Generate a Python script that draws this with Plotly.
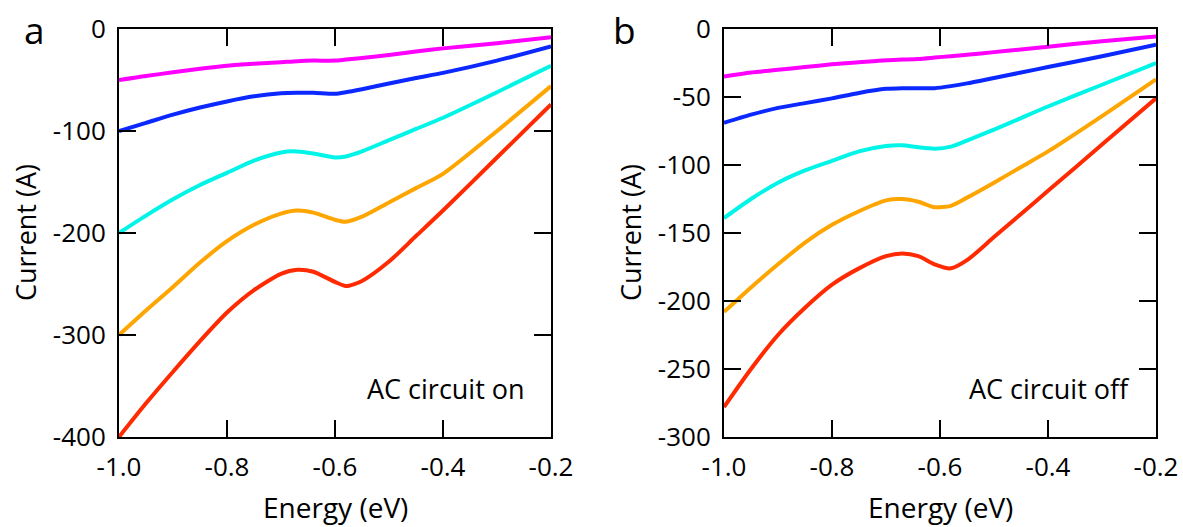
import plotly.graph_objects as go

# ---------------- data ----------------
energy_a = [-1.0, -0.95, -0.9, -0.85, -0.8, -0.75, -0.7, -0.67, -0.64, -0.6, -0.58, -0.55, -0.5, -0.45, -0.4, -0.3, -0.2]
a_magenta = [-50, -46, -42.5, -39, -36, -34, -32.5, -31.5, -31, -31, -30, -28.5, -25.5, -22, -19, -14, -8]
a_blue = [-100, -92, -84, -77, -71, -66, -63, -62.5, -62.5, -63.5, -62, -59, -53.5, -48, -43, -31, -17]
a_cyan = [-200, -183, -167, -153, -141, -129, -121, -120, -122, -126, -125, -120, -109, -98, -87, -62, -36]
a_orange = [-300, -276, -253, -229, -208, -192, -181, -178, -180, -187, -189, -184, -170, -156, -142, -100, -56]
a_red = [-400, -367, -336, -306, -278, -256, -240, -236, -238, -248, -252, -247, -228, -203, -178, -126, -74]

energy_b = [-1.0, -0.95, -0.9, -0.85, -0.8, -0.75, -0.7, -0.67, -0.64, -0.61, -0.58, -0.55, -0.5, -0.45, -0.4, -0.3, -0.2]
b_magenta = [-35, -32, -30, -28, -26, -24.5, -23, -22.5, -22, -21, -20, -19, -17, -15, -13, -9, -5.5]
b_blue = [-69, -63, -58, -54.5, -51, -47, -44, -43.5, -43.5, -43.5, -42, -40, -36, -32, -28, -20, -11.5]
b_cyan = [-139, -125, -113, -104, -97, -90, -86, -85.5, -87, -88, -86.5, -82, -74, -65.5, -57, -41, -25]
b_orange = [-208, -190, -173, -157, -144, -134, -126, -125, -127, -131, -130, -124, -113, -101.5, -90, -64, -37]
b_red = [-278, -250, -225, -205, -188, -176, -167, -165, -167, -173, -176, -170, -153, -136, -119, -85, -51]

series_names = ["magenta", "blue", "cyan", "orange", "red"]
series_colors = ["#FF00FF", "#0A28FF", "#00F5E8", "#FFA500", "#FF2A00"]

x_ticks = [-1.0, -0.8, -0.6, -0.4, -0.2]
x_tick_text = ["-1.0", "-0.8", "-0.6", "-0.4", "-0.2"]
y_ticks_a = [0, -100, -200, -300, -400]
y_tick_text_a = ["0", "-100", "-200", "-300", "-400"]
y_ticks_b = [0, -50, -100, -150, -200, -250, -300]
y_tick_text_b = ["0", "-50", "-100", "-150", "-200", "-250", "-300"]

panel_labels = ["a", "b"]
panel_notes = ["AC circuit on", "AC circuit off"]
x_title = "Energy (eV)"
y_title = "Current (A)"

# ---------------- figure ----------------
W, H = 1183, 527
FONT = "Open Sans"

fig = go.Figure()

panels = [
    (energy_a, [a_magenta, a_blue, a_cyan, a_orange, a_red], "x", "y"),
    (energy_b, [b_magenta, b_blue, b_cyan, b_orange, b_red], "x2", "y2"),
]
for xs, ys_list, xa, ya in panels:
    for name, col, ys in zip(series_names, series_colors, ys_list):
        fig.add_trace(go.Scatter(
            x=xs, y=ys, mode="lines", name=name,
            line=dict(color=col, width=4, shape="spline", smoothing=0.7),
            xaxis=xa, yaxis=ya, showlegend=False, cliponaxis=False,
        ))

def px_x(p):
    return p / W

def px_y(p):
    return 1 - p / H

dom_a = [px_x(119), px_x(551)]
dom_b = [px_x(724), px_x(1156)]
dom_y = [px_y(437), px_y(29)]

axis_common = dict(
    showline=True, linecolor="black", linewidth=2, mirror="ticks",
    ticks="inside", ticklen=17, tickwidth=2, tickcolor="black",
    showgrid=False, zeroline=False, automargin=False,
    tickfont=dict(family=FONT, size=26, color="black"),
)

fig.update_layout(
    width=W, height=H,
    margin=dict(l=0, r=0, t=0, b=0, autoexpand=False),
    paper_bgcolor="white", plot_bgcolor="white",
    xaxis=dict(domain=dom_a, range=[-1.0, -0.2], tickvals=x_ticks, ticktext=x_tick_text,
               anchor="y", ticklabelstandoff=6, **axis_common),
    yaxis=dict(domain=dom_y, range=[-400, 0], tickvals=y_ticks_a, ticktext=y_tick_text_a,
               anchor="x", ticklabelstandoff=6, **axis_common),
    xaxis2=dict(domain=dom_b, range=[-1.0, -0.2], tickvals=x_ticks, ticktext=x_tick_text,
                anchor="y2", ticklabelstandoff=6, **axis_common),
    yaxis2=dict(domain=dom_y, range=[-300, 0], tickvals=y_ticks_b, ticktext=y_tick_text_b,
                anchor="x2", ticklabelstandoff=6, **axis_common),
)

annotations = []
letter_offsets = [85, 100]
for dom, lab, note, loff in zip([dom_a, dom_b], panel_labels, panel_notes, letter_offsets):
    left_px = dom[0] * W
    right_px = dom[1] * W
    annotations.append(dict(
        text=lab, x=px_x(left_px - loff), y=px_y(30), xref="paper", yref="paper",
        xanchor="center", yanchor="middle", showarrow=False,
        font=dict(family=FONT, size=37, color="black"),
    ))
    annotations.append(dict(
        text=note, x=px_x(right_px - 24), y=px_y(388), xref="paper", yref="paper",
        xanchor="right", yanchor="middle", showarrow=False,
        font=dict(family=FONT, size=27, color="black"),
    ))
    annotations.append(dict(
        text=x_title, x=(dom[0] + dom[1]) / 2, y=px_y(507), xref="paper", yref="paper",
        xanchor="center", yanchor="middle", showarrow=False,
        font=dict(family=FONT, size=28, color="black"),
    ))
    annotations.append(dict(
        text=y_title, x=px_x(left_px - 94), y=(dom_y[0] + dom_y[1]) / 2, xref="paper", yref="paper",
        xanchor="center", yanchor="middle", showarrow=False, textangle=-90,
        font=dict(family=FONT, size=27, color="black"),
    ))

fig.update_layout(annotations=annotations)

fig.write_html(
    "out.html",
    config={"displayModeBar": False},
    post_script="document.body.style.margin='0px';document.body.style.overflow='hidden';",
)
